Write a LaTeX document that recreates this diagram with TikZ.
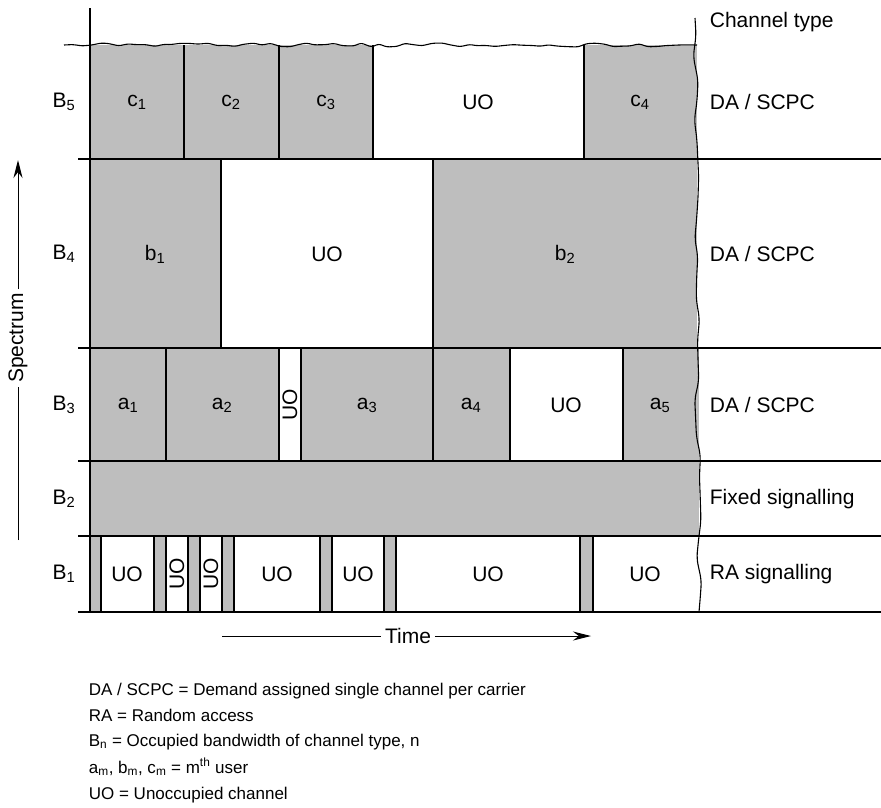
\documentclass[tikz,border=0pt]{standalone}
\usepackage{fontspec}
\setmainfont{Liberation Sans}
\usetikzlibrary{arrows.meta,decorations.pathmorphing}
\definecolor{taken}{HTML}{BEBEBE}
\tikzset{
  cell/.style={font=\fontsize{21}{25}\selectfont},
  side/.style={font=\fontsize{21}{25}\selectfont, anchor=west},
  legend/.style={font=\fontsize{17}{20}\selectfont, anchor=base west},
  rough/.style={decorate, decoration={random steps, segment length=9pt, amplitude=2pt}, rounded corners=2.5pt},
  torn/.style={decorate, decoration={random steps, segment length=20pt, amplitude=3pt}, rounded corners=6pt},
  axis/.style={line width=1pt, -{Stealth[length=18pt,width=9pt]}},
}
\begin{document}
\begin{tikzpicture}[x=1pt, y=-1pt, line width=1.1pt]
  \useasboundingbox (0,0) rectangle (881,807);
  \pgfmathsetseed{7}
  % occupied slots
  \foreach \a/\b/\t/\u in {90/184/45/159, 184/279/45/159, 279/373/45/159, 584/697/45/159,
      90/221/159/348, 433/697/159/348,
      90/166/348/461, 166/279/348/461, 301/433/348/461, 433/510/348/461, 623/699/348/461,
      90/699/461/536,
      90/101/536/612, 154/166/536/612, 188/200/536/612, 222/234/536/612,
      320/332/536/612, 384/396/536/612, 580/593/536/612}
    \fill[taken] (\a,\t) rectangle (\b,\u);
  % band edges
  \foreach \y in {159,348,461,536,612}
    \draw (78,\y) -- (881,\y);
  \draw (90,8) -- (90,612);
  \foreach \x in {184,279,373,584} \draw (\x,45) -- (\x,159);
  \foreach \x in {221,433} \draw (\x,159) -- (\x,348);
  \foreach \x in {166,279,301,433,510,623} \draw (\x,348) -- (\x,461);
  \foreach \x in {101,154,166,188,200,222,234,320,332,384,396,580,593}
    \draw (\x,536) -- (\x,612);
  % torn edges
  \draw[rough] (64,45) -- (697,45);
  \draw[torn] (695,18) -- (699,612);
  % slot labels
  \foreach \n/\x/\y/\t in {c1/137/102/{c\textsubscript{1}}, c2/231/102/{c\textsubscript{2}},
      c3/326/102/{c\textsubscript{3}}, uo51/478/102/UO, c4/640/102/{c\textsubscript{4}},
      b1/155/254/{b\textsubscript{1}}, uo41/327/254/UO, b2/565/254/{b\textsubscript{2}},
      a1/128/405/{a\textsubscript{1}}, a2/222/405/{a\textsubscript{2}}, a3/367/405/{a\textsubscript{3}},
      a4/471/405/{a\textsubscript{4}}, uo32/566/405/UO, a5/660/405/{a\textsubscript{5}},
      uo11/127/574/UO, uo14/277/574/UO, uo15/358/574/UO, uo16/488/574/UO, uo17/645/574/UO}
    \node[cell] (\n) at (\x,\y) {\t};
  \foreach \n/\x/\y in {uo31/290/405, uo12/177/574, uo13/211/574}
    \node[cell, rotate=90] (\n) at (\x,\y) {UO};
  % bands
  \foreach \n/\y in {5/102, 4/254, 3/405, 2/499, 1/574}
    \node[cell] (B\n) at (64,\y) {B\textsubscript{\n}};
  \node[side] (ctype) at (706,22) {Channel type};
  \foreach \n/\y/\t in {t5/102/{DA / SCPC}, t4/254/{DA / SCPC}, t3/405/{DA / SCPC},
      t2/499/{Fixed signalling}, t1/574/{RA signalling}}
    \node[side] (\n) at (706,\y) {\t};
  % axes
  \node[cell, rotate=90] (spec) at (18,338) {Spectrum};
  \coordinate (specfoot) at (18,540);
  \coordinate (spectop) at (18,160);
  \draw[line width=1pt] (specfoot) -- (spec.west);
  \draw[axis] (spec.east) -- (spectop);
  \node[cell] (time) at (408,636) {Time};
  \coordinate (timestart) at (222,636);
  \coordinate (timeend) at (591,636);
  \draw[line width=1pt] (timestart) -- (time.west);
  \draw[axis] (time.east) -- (timeend);
  % key
  \node[legend] (k1) at (85,695) {DA / SCPC = Demand assigned single channel per carrier};
  \node[legend] (k2) at (85,721) {RA = Random access};
  \node[legend] (k3) at (85,746) {B\textsubscript{n} = Occupied bandwidth of channel type, n};
  \node[legend] (k4) at (85,773) {a\textsubscript{m}, b\textsubscript{m}, c\textsubscript{m} = m\textsuperscript{th} user};
  \node[legend] (k5) at (85,799) {UO = Unoccupied channel};
\end{tikzpicture}
\end{document}
